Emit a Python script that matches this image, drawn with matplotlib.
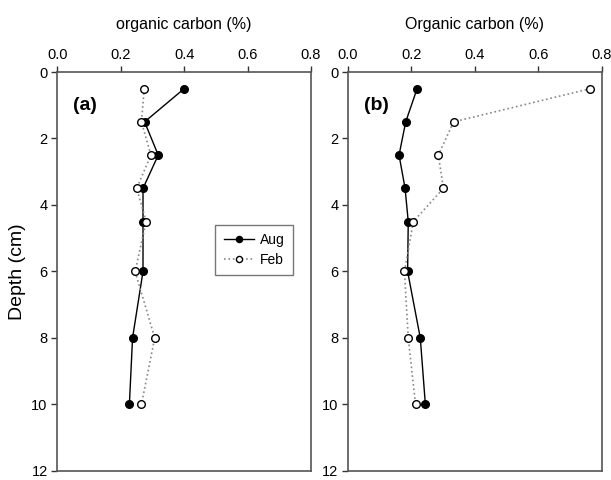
import matplotlib.pyplot as plt

plt.rcParams['font.family'] = ['Liberation Sans', 'DejaVu Sans']

depth = [0.5, 1.5, 2.5, 3.5, 4.5, 6, 8, 10]

# panel (a)
aug_a = [0.40, 0.275, 0.318, 0.27, 0.27, 0.27, 0.237, 0.227]
feb_a = [0.274, 0.265, 0.295, 0.25, 0.28, 0.245, 0.307, 0.265]

# panel (b)
aug_b = [0.218, 0.182, 0.161, 0.18, 0.19, 0.188, 0.228, 0.244]
feb_b = [0.765, 0.333, 0.285, 0.301, 0.206, 0.178, 0.19, 0.213]

xticks = [0.0, 0.2, 0.4, 0.6, 0.8]
yticks = [0, 2, 4, 6, 8, 10, 12]

fig = plt.figure(figsize=(6.11, 4.8), dpi=100)
ax1 = fig.add_axes([0.094, 0.019, 0.415, 0.831])
ax2 = fig.add_axes([0.5696, 0.019, 0.415, 0.831])

panels = [(ax1, aug_a, feb_a, '(a)', 'organic carbon (%)'),
          (ax2, aug_b, feb_b, '(b)', 'Organic carbon (%)')]

for ax, aug, feb, tag, title in panels:
    ax.plot(aug, depth, '-o', color='black', lw=1.0, ms=5.5,
            mfc='black', mec='black', label='Aug', zorder=3)
    ax.plot(feb, depth, ':o', color='#888888', lw=1.2, ms=5.5,
            mfc='white', mec='black', mew=1.0, label='Feb', zorder=3)
    ax.set_xlim(0, 0.8)
    ax.set_ylim(12, 0)
    ax.set_xticks(xticks)
    ax.set_xticklabels([f'{v:.1f}' for v in xticks])
    ax.set_yticks(yticks)
    ax.xaxis.tick_top()
    ax.xaxis.set_label_position('top')
    ax.tick_params(direction='out', length=4, width=1, colors='#333333',
                   labelsize=10.5, labelcolor='black', pad=3)
    for sp in ax.spines.values():
        sp.set_color('#555555')
        sp.set_linewidth(1.2)
    ax.set_xlabel(title, fontsize=11.5, labelpad=14)
    ax.text(0.05, 1.0, tag, fontsize=14, fontweight='bold', va='center')

ax1.set_ylabel('Depth (cm)', fontsize=14, labelpad=4)

leg = ax1.legend(loc='upper right', bbox_to_anchor=(0.929, 0.617),
                 borderaxespad=0, fancybox=False, fontsize=10,
                 handlelength=2.2, handletextpad=0.4, borderpad=0.6,
                 labelspacing=0.4, markerscale=0.8)
leg.get_frame().set_edgecolor('#555555')
leg.get_frame().set_linewidth(1.0)

fig.savefig('out.png', dpi=100)
